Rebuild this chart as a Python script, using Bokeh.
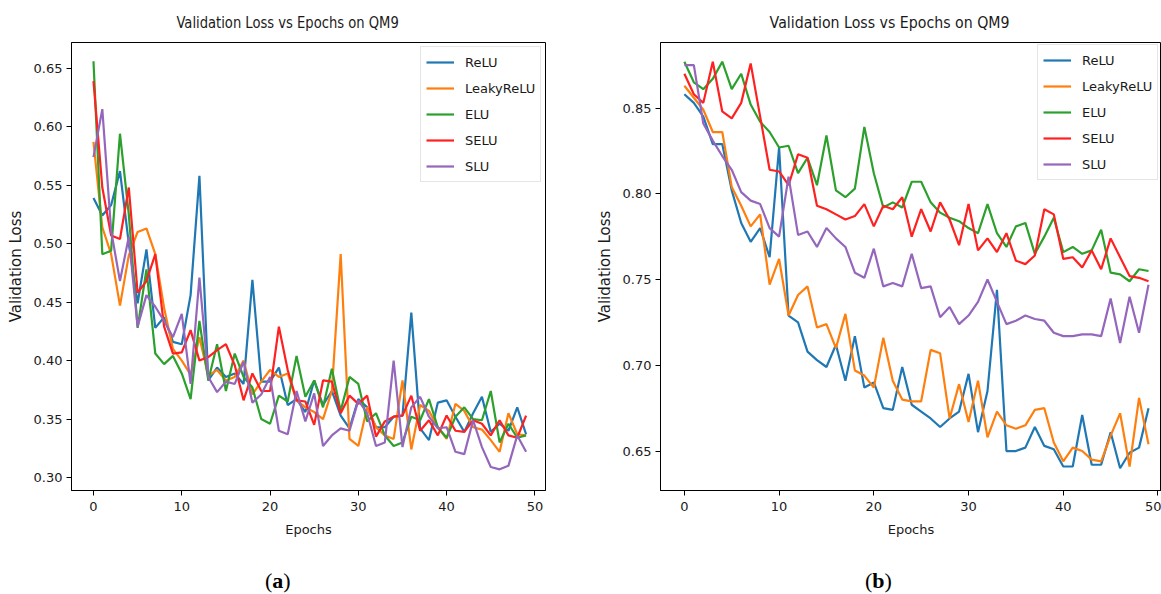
from bokeh.plotting import figure
from bokeh.layouts import row, column
from bokeh.models import FixedTicker, NumeralTickFormatter, Range1d, Div
from bokeh.embed import file_html
from bokeh.resources import INLINE

epochs = list(range(50))
series_names = ["ReLU", "LeakyReLU", "ELU", "SELU", "SLU"]
colors = ["#1f77b4", "#ff7f0e", "#2ca02c", "#ff2020", "#9467bd"]

x_ticks = [0, 10, 20, 30, 40, 50]
y_ticks_a = [0.30, 0.35, 0.40, 0.45, 0.50, 0.55, 0.60, 0.65]
y_ticks_b = [0.65, 0.70, 0.75, 0.80, 0.85]

# ---- Panel (a) ----
relu_a = [0.539, 0.524, 0.533, 0.562, 0.500, 0.449, 0.495, 0.428, 0.437, 0.416,
          0.414, 0.456, 0.558, 0.383, 0.394, 0.386, 0.389, 0.380, 0.469, 0.382,
          0.382, 0.394, 0.362, 0.367, 0.356, 0.383, 0.362, 0.374, 0.353, 0.342,
          0.367, 0.360, 0.343, 0.343, 0.352, 0.353, 0.441, 0.342, 0.332, 0.364,
          0.366, 0.352, 0.339, 0.355, 0.369, 0.339, 0.346, 0.340, 0.360, 0.337]
leaky_a = [0.587, 0.514, 0.491, 0.447, 0.490, 0.510, 0.513, 0.491, 0.445, 0.410,
           0.400, 0.388, 0.420, 0.387, 0.392, 0.383, 0.386, 0.400, 0.371, 0.382,
           0.392, 0.386, 0.389, 0.366, 0.360, 0.356, 0.350, 0.374, 0.491, 0.333,
           0.327, 0.360, 0.343, 0.336, 0.333, 0.383, 0.324, 0.362, 0.357, 0.343,
           0.333, 0.363, 0.357, 0.343, 0.341, 0.332, 0.322, 0.355, 0.337, 0.336]
elu_a = [0.656, 0.491, 0.494, 0.594, 0.525, 0.428, 0.478, 0.406, 0.397, 0.404,
         0.389, 0.367, 0.434, 0.383, 0.414, 0.374, 0.406, 0.386, 0.377, 0.350,
         0.346, 0.370, 0.365, 0.404, 0.369, 0.383, 0.360, 0.393, 0.357, 0.386,
         0.380, 0.348, 0.355, 0.336, 0.327, 0.330, 0.352, 0.349, 0.367, 0.343,
         0.334, 0.352, 0.360, 0.350, 0.349, 0.374, 0.330, 0.346, 0.334, 0.336]
selu_a = [0.639, 0.548, 0.507, 0.504, 0.548, 0.458, 0.468, 0.491, 0.429, 0.406,
          0.407, 0.426, 0.400, 0.403, 0.409, 0.414, 0.396, 0.366, 0.389, 0.374,
          0.374, 0.429, 0.392, 0.366, 0.365, 0.345, 0.383, 0.382, 0.355, 0.370,
          0.363, 0.370, 0.335, 0.348, 0.352, 0.353, 0.370, 0.340, 0.349, 0.336,
          0.353, 0.340, 0.339, 0.349, 0.346, 0.336, 0.349, 0.336, 0.334, 0.353]
slu_a = [0.574, 0.615, 0.511, 0.468, 0.506, 0.429, 0.456, 0.446, 0.434, 0.420,
         0.440, 0.380, 0.471, 0.386, 0.373, 0.382, 0.380, 0.399, 0.364, 0.371,
         0.386, 0.340, 0.337, 0.374, 0.348, 0.372, 0.327, 0.336, 0.342, 0.340,
         0.366, 0.355, 0.327, 0.330, 0.400, 0.326, 0.360, 0.369, 0.352, 0.342,
         0.343, 0.322, 0.320, 0.349, 0.326, 0.309, 0.307, 0.310, 0.336, 0.322]

# ---- Panel (b) ----
relu_b = [0.858, 0.853, 0.845, 0.829, 0.829, 0.802, 0.783, 0.772, 0.780, 0.763,
          0.827, 0.729, 0.725, 0.708, 0.703, 0.699, 0.712, 0.691, 0.717, 0.687,
          0.690, 0.675, 0.674, 0.699, 0.677, 0.673, 0.669, 0.664, 0.669, 0.673,
          0.695, 0.661, 0.685, 0.744, 0.650, 0.650, 0.652, 0.664, 0.653, 0.651,
          0.641, 0.641, 0.671, 0.642, 0.642, 0.661, 0.640, 0.649, 0.652, 0.675]
leaky_b = [0.863, 0.856, 0.849, 0.836, 0.836, 0.804, 0.793, 0.781, 0.788, 0.747,
           0.762, 0.729, 0.741, 0.746, 0.722, 0.724, 0.710, 0.730, 0.697, 0.694,
           0.687, 0.716, 0.691, 0.680, 0.679, 0.679, 0.709, 0.707, 0.669, 0.689,
           0.667, 0.691, 0.658, 0.673, 0.665, 0.663, 0.665, 0.674, 0.675, 0.655,
           0.644, 0.652, 0.650, 0.645, 0.644, 0.659, 0.672, 0.641, 0.681, 0.654]
elu_b = [0.877, 0.865, 0.861, 0.867, 0.877, 0.861, 0.870, 0.852, 0.842, 0.836,
         0.827, 0.828, 0.812, 0.821, 0.805, 0.834, 0.802, 0.798, 0.803, 0.839,
         0.812, 0.792, 0.795, 0.792, 0.807, 0.807, 0.795, 0.789, 0.786, 0.784,
         0.780, 0.777, 0.794, 0.777, 0.769, 0.781, 0.783, 0.765, 0.775, 0.786,
         0.766, 0.769, 0.765, 0.767, 0.779, 0.754, 0.753, 0.749, 0.756, 0.755]
selu_b = [0.870, 0.858, 0.853, 0.877, 0.848, 0.844, 0.853, 0.876, 0.845, 0.814,
          0.813, 0.805, 0.823, 0.821, 0.793, 0.791, 0.788, 0.785, 0.787, 0.794,
          0.781, 0.793, 0.791, 0.798, 0.775, 0.791, 0.778, 0.795, 0.785, 0.770,
          0.794, 0.767, 0.774, 0.766, 0.777, 0.761, 0.759, 0.764, 0.791, 0.788,
          0.762, 0.763, 0.757, 0.767, 0.756, 0.774, 0.763, 0.752, 0.751, 0.749]
slu_b = [0.875, 0.875, 0.841, 0.831, 0.822, 0.814, 0.801, 0.796, 0.794, 0.780,
         0.775, 0.810, 0.776, 0.778, 0.769, 0.780, 0.774, 0.769, 0.754, 0.751,
         0.768, 0.746, 0.748, 0.746, 0.765, 0.745, 0.746, 0.728, 0.734, 0.724,
         0.729, 0.737, 0.750, 0.737, 0.724, 0.726, 0.729, 0.727, 0.726, 0.719,
         0.717, 0.717, 0.718, 0.718, 0.717, 0.739, 0.713, 0.740, 0.719, 0.747]

title_text = "Validation Loss vs Epochs on QM9"
captions = ["a", "b"]
FONT = "DejaVu Sans"


def make_panel(series, width, x_range, y_range, y_ticks, borders, legend_loc):
    left, right, top, bottom = borders
    p = figure(width=width, height=524, output_backend="svg",
               toolbar_location=None, tools="",
               x_range=Range1d(*x_range), y_range=Range1d(*y_range),
               min_border_left=left, min_border_right=right,
               min_border_top=top, min_border_bottom=bottom)
    p.background_fill_color = "white"
    p.border_fill_color = "white"
    p.outline_line_color = "black"
    p.outline_line_width = 1
    p.xgrid.visible = False
    p.ygrid.visible = False

    for name, col, vals in zip(series_names, colors, series):
        p.line(epochs, vals, line_color=col, line_width=2.2, legend_label=name)

    p.xaxis.ticker = FixedTicker(ticks=x_ticks)
    p.yaxis.ticker = FixedTicker(ticks=y_ticks)
    p.yaxis.formatter = NumeralTickFormatter(format="0.00")
    for ax in (p.xaxis[0], p.yaxis[0]):
        ax.axis_line_color = "black"
        ax.major_tick_line_color = "black"
        ax.major_tick_out = 5
        ax.major_tick_in = 0
        ax.minor_tick_line_color = None
        ax.major_label_text_font = FONT
        ax.major_label_text_font_size = "13px"
        ax.major_label_text_color = "#1a1a1a"
        ax.axis_label_text_font = FONT
        ax.axis_label_text_font_style = "normal"
        ax.axis_label_text_color = "#1a1a1a"
    p.xaxis.axis_label = "Epochs"
    p.xaxis.axis_label_text_font_size = "13px"
    p.xaxis.major_label_standoff = 6
    p.xaxis.axis_label_standoff = 8
    p.yaxis.axis_label = "Validation Loss"
    p.yaxis.axis_label_text_font_size = "15px"
    p.yaxis.major_label_standoff = 4
    p.yaxis.axis_label_standoff = 6

    leg = p.legend[0]
    leg.location = legend_loc
    leg.margin = 0
    leg.padding = 5
    leg.spacing = 6
    leg.glyph_width = 28
    leg.glyph_height = 20
    leg.label_height = 20
    leg.label_standoff = 11
    leg.label_text_font = FONT
    leg.label_text_font_size = "13px"
    leg.label_text_color = "#1a1a1a"
    leg.border_line_color = "#cccccc"
    leg.border_line_width = 1
    leg.background_fill_alpha = 0.8
    return p


def make_title(width, shift, sx):
    html = ('<div style="position:relative; left:%dpx; margin-top:13px; '
            'line-height:20px; white-space:nowrap; display:inline-block; '
            'font-family:\'DejaVu Sans\', sans-serif; font-size:16px; '
            'color:#1a1a1a; transform:scaleX(%.3f);">%s</div>'
            % (shift, sx, title_text))
    return Div(text=html, width=width, height=36, margin=0)


def make_caption(letter, width, pad_left):
    html = ('<div style="margin-left:%dpx; margin-top:8px; line-height:26px; '
            'font-family:\'Liberation Serif\', serif; font-size:22px; '
            'color:black; white-space:nowrap;">(<b>%s</b>)</div>'
            % (pad_left, letter))
    return Div(text=html, width=width, height=34, margin=0)


pa = make_panel([relu_a, leaky_a, elu_a, selu_a, slu_a], 592,
                (-2.49, 51.2), (0.2889, 0.6720), y_ticks_a,
                (71, 47, 6, 70), (349, 308))
pb = make_panel([relu_b, leaky_b, elu_b, selu_b, slu_b], 569,
                (-2.52, 50.37), (0.6270, 0.8882), y_ticks_b,
                (65, 0, 5, 68), (377, 310))

ta = make_title(592, 152, 0.82)
tb = make_title(569, 162, 0.885)
ca = make_caption(captions[0], 592, 265)
cb = make_caption(captions[1], 569, 273)

layout = column(row(ta, tb), row(pa, pb), row(ca, cb))
open("out.html", "w").write(file_html(layout, INLINE))
